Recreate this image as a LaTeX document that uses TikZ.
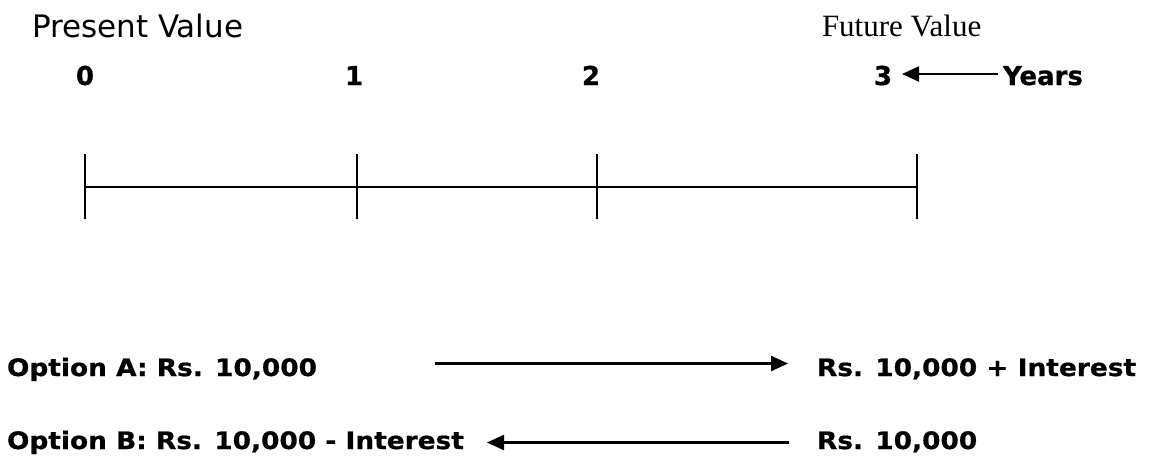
\documentclass[tikz,border=0pt]{standalone}
\usepackage{fontspec}
\usetikzlibrary{arrows.meta}
\setmainfont{DejaVu Sans}
\newfontfamily\pvfont{DejaVu Sans}
\newfontfamily\fvfont{Liberation Serif}
\newfontfamily\numfont[FakeBold=0.8]{DejaVu Sans Bold}
\newfontfamily\optfont[FakeStretch=1.1,FakeBold=0.8]{DejaVu Sans Bold}
\tikzset{
  lbl/.style={anchor=base west, inner sep=0pt, outer sep=0pt},
  num/.style={anchor=base, inner sep=0pt, outer sep=0pt, font=\numfont\fontsize{26}{30}\selectfont},
  opt/.style={lbl, font=\optfont\fontsize{24}{28}\selectfont},
  axis/.style={line width=2.4pt},
  arr/.style={line width=2.4pt, -{Triangle[length=17pt,width=15pt]}},
}
\begin{document}
\begin{tikzpicture}[x=1pt,y=-1pt]
\useasboundingbox (0,0) rectangle (1150,456);
% titles
\node[lbl, font=\pvfont\fontsize{31}{36}\selectfont] (pv) at (32,37) {Present Value};
\node[lbl, font=\fvfont\fontsize{31}{37}\selectfont] (fv) at (822,36) {Future Value};
% year numbers
\node[num] (n0) at (85,85) {0};
\node[num] (n1) at (354,85) {1};
\node[num] (n2) at (591,85) {2};
\node[num] (n3) at (883,85) {3};
\node[lbl, font=\numfont\fontsize{26}{30}\selectfont] (yrs) at (1003,85) {Years};
\coordinate (ya) at (998,74);
\coordinate (yb) at (902,74);
\draw[arr] (ya) -- (yb);
% timeline
\coordinate (t0) at (85,187);
\coordinate (t1) at (357,187);
\coordinate (t2) at (597,187);
\coordinate (t3) at (917,187);
\draw[axis] (t0) -- (t1) -- (t2) -- (t3);
\foreach \t in {t0,t1,t2,t3}{
  \draw[axis] (\t) ++(0,-33) -- ++(0,65);
}
% options
\node[opt] (oa) at (7,376) {Option A: Rs. 10,000};
\node[opt] (ra) at (817,376) {Rs. 10,000 + Interest};
\coordinate (aa) at (435,363.5);
\coordinate (ab) at (788,363.5);
\draw[arr] (aa) -- (ab);
\node[opt] (ob) at (7,449) {Option B: Rs. 10,000 - Interest};
\node[opt] (rb) at (817,449) {Rs. 10,000};
\coordinate (ba) at (789,442.5);
\coordinate (bb) at (487,442.5);
\draw[arr] (ba) -- (bb);
\end{tikzpicture}
\end{document}
